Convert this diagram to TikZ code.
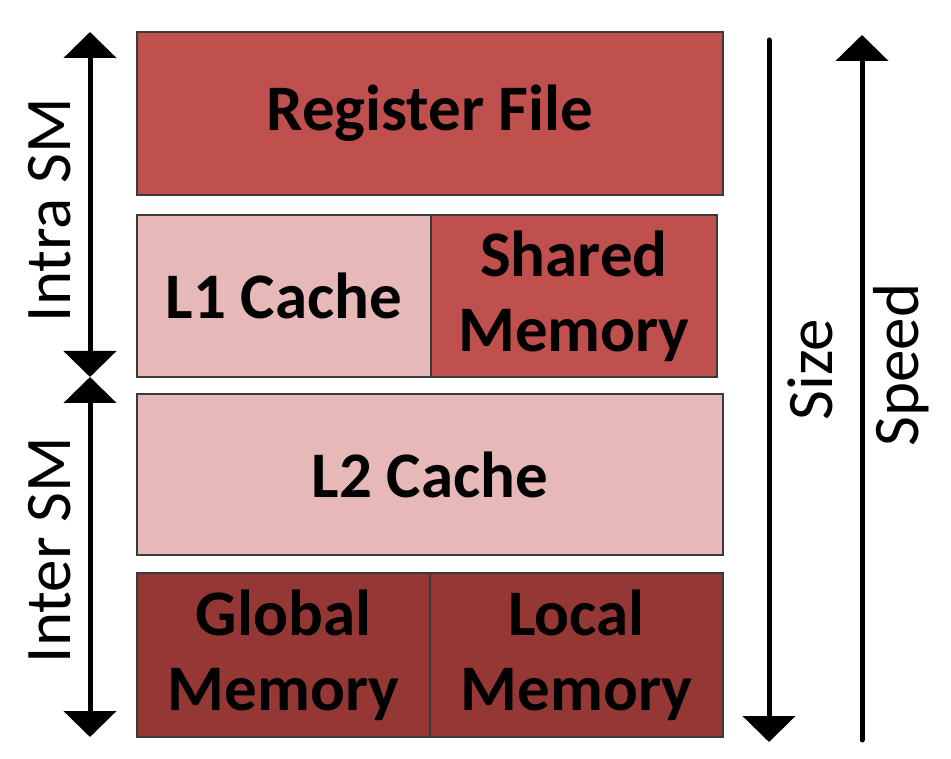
\documentclass[tikz,border=0pt]{standalone}
\usepackage{fontspec}
\setmainfont{Carlito}
\usetikzlibrary{arrows.meta}
\definecolor{regred}{HTML}{C0504D}
\definecolor{lightred}{HTML}{E6B9B8}
\definecolor{darkred}{HTML}{953735}
\definecolor{edgegray}{HTML}{3A3A3A}
\tikzset{
  memblock/.style={draw=edgegray, line width=1.5pt, inner sep=0pt, outer sep=0pt, font=\fontsize{65}{75}\selectfont\bfseries, align=center, text=black},
  sidearrow/.style={line width=5pt, line cap=round},
  bigtip/.tip={Triangle[width=52pt,length=26pt]},
  sidelabel/.style={font=\fontsize{65}{75}\selectfont, rotate=90, inner sep=0pt}
}
\begin{document}
\begin{tikzpicture}[x=1pt,y=-1pt]
\useasboundingbox (0,0) rectangle (951,759);
% blocks
\node[memblock, fill=regred, minimum width=586pt, minimum height=163pt] (rf) at (430,113.5) {Register File};
\node[memblock, fill=lightred, minimum width=294pt, minimum height=162pt] (l1) at (284,296) {L1 Cache};
\node[memblock, fill=regred, minimum width=286pt, minimum height=162pt] (sh) at (574,296) {Shared\\Memory};
\node[memblock, fill=lightred, minimum width=586pt, minimum height=161pt] (l2) at (430,474.5) {L2 Cache};
\node[memblock, fill=darkred, minimum width=293pt, minimum height=164pt] (gm) at (283.5,655) {Global\\Memory};
\node[memblock, fill=darkred, minimum width=293pt, minimum height=164pt] (lm) at (576.5,655) {Local\\Memory};
% arrow end points
\coordinate (intraT) at (90,32);
\coordinate (mid) at (90,377);
\coordinate (interB) at (90,737);
\coordinate (sizeT) at (769,40);
\coordinate (sizeB) at (769,742);
\coordinate (speedB) at (862,740);
\coordinate (speedT) at (862,35);
\draw[sidearrow, {bigtip}-{bigtip}] (intraT) -- (mid);
\draw[sidearrow, {bigtip}-{bigtip}] (mid) -- (interB);
\draw[sidearrow, -{bigtip}] (sizeT) -- (sizeB);
\draw[sidearrow, -{bigtip}] (speedB) -- (speedT);
% labels
\node[sidelabel] (intra) at (50,210) {Intra SM};
\node[sidelabel] (inter) at (50,550) {Inter SM};
\node[sidelabel] (size) at (810,370) {Size};
\node[sidelabel] (speed) at (901,365) {Speed};
\end{tikzpicture}
\end{document}
